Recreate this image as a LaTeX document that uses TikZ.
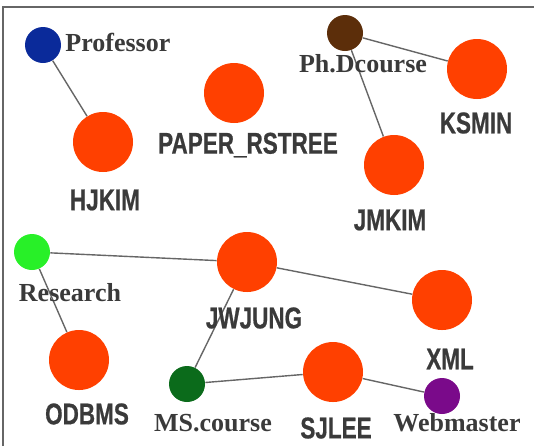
\documentclass[tikz,border=0pt]{standalone}
\usepackage{fontspec}
\setmainfont{Liberation Serif}
\newfontfamily\namefont[FakeStretch=0.75,FakeBold=0.6]{Liberation Sans}
\definecolor{graphRed}{HTML}{FF4000}
\definecolor{roleBlue}{HTML}{0A2A9A}
\definecolor{roleBrown}{HTML}{5C2E0A}
\definecolor{roleGreen}{HTML}{28F028}
\definecolor{roleDark}{HTML}{0B6B1B}
\definecolor{rolePurple}{HTML}{7A0A8A}
\definecolor{graphInk}{HTML}{3A3A3A}
\definecolor{graphLine}{HTML}{666666}
\usetikzlibrary{
	positioning
}
\tikzset{
	member/.style={
		circle,
		fill=graphRed,
		minimum size=30pt,
		inner sep=0pt
	},
	role/.style={
		circle,
		minimum size=18pt,
		inner sep=0pt
	},
	nameText/.style={
		text=graphInk,
		inner sep=0pt,
		font=\namefont\bfseries\fontsize{15}{17}\selectfont
	},
	roleText/.style={
		text=graphInk,
		inner sep=0pt,
		font=\bfseries\fontsize{13}{15}\selectfont
	},
	link/.style={
		draw=graphLine,
		line width=0.7pt
	}
}

\begin{document}
\begin{tikzpicture}[x=0.5pt, y=-0.5pt]
		\useasboundingbox (0,0) rectangle (534,446);
		\draw[line width=1pt, graphLine] (3,446) -- (3,7) -- (534,7);
		% roles
		\node[role, fill=roleBlue] (professor) at (43,45) {};
		\node[role, fill=roleBrown] (phd) at (345,33) {};
		\node[role, fill=roleGreen] (research) at (32,252) {};
		\node[role, fill=roleDark] (ms) at (187,384) {};
		\node[role, fill=rolePurple] (webmaster) at (442,396) {};
		% members
		\node[member] (hjkim) at (103,142) {};
		\node[member] (paper) at (234,93) {};
		\node[member] (ksmin) at (477,69) {};
		\node[member] (jmkim) at (394,165) {};
		\node[member] (jwjung) at (247,262) {};
		\node[member] (xml) at (442,300) {};
		\node[member] (odbms) at (79,360) {};
		\node[member] (sjlee) at (333,372) {};
		% links
		\draw[link] (professor) -- (hjkim);
		\draw[link] (phd) -- (ksmin);
		\draw[link] (phd) -- (jmkim);
		\draw[link] (research) -- (jwjung);
		\draw[link] (jwjung) -- (xml);
		\draw[link] (research) -- (odbms);
		\draw[link] (jwjung) -- (ms);
		\draw[link] (ms) -- (sjlee);
		\draw[link] (sjlee) -- (webmaster);
		% labels
		\node[roleText, anchor=west] (professorL) at (65,42) {Professor};
		\node[roleText] (phdL) at (363,64) {Ph.Dcourse};
		\node[roleText] (researchL) at (70,293) {Research};
		\node[roleText] (msL) at (213,423) {MS.course};
		\node[roleText] (webmasterL) at (457,423) {Webmaster};
		\node[nameText] (hjkimL) at (105,200) {HJKIM};
		\node[nameText] (paperL) at (248,145) {PAPER\_RSTREE};
		\node[nameText] (ksminL) at (476,123) {KSMIN};
		\node[nameText] (jmkimL) at (390,220) {JMKIM};
		\node[nameText] (jwjungL) at (254,318) {JWJUNG};
		\node[nameText] (xmlL) at (450,359) {XML};
		\node[nameText] (odbmsL) at (87,414) {ODBMS};
		\node[nameText] (sjleeL) at (336,428) {SJLEE};
	\end{tikzpicture}
\end{document}
